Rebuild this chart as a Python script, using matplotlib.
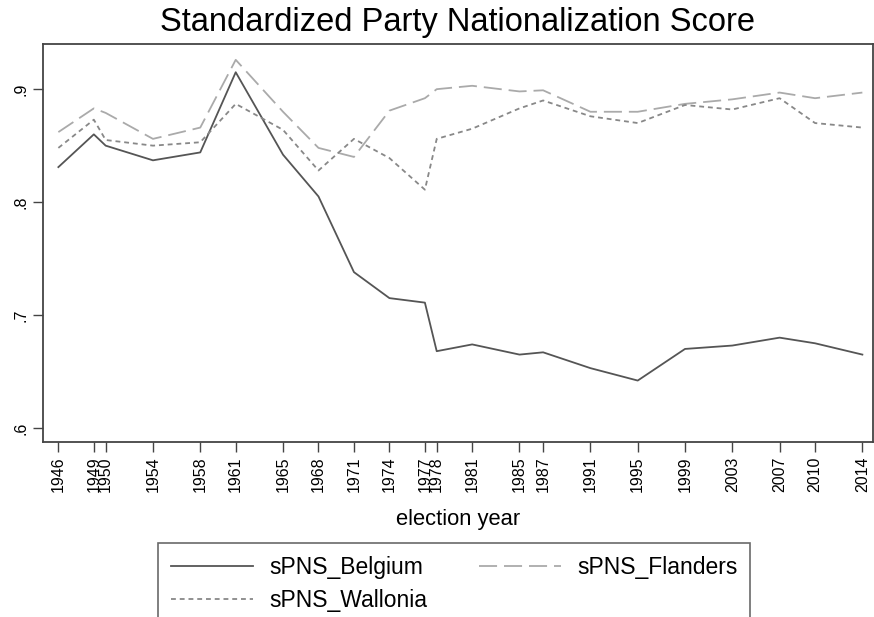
import matplotlib
matplotlib.use("Agg")
from matplotlib import pyplot as plt

plt.rcParams['font.family'] = ['Liberation Sans', 'DejaVu Sans']
plt.rcParams['lines.scale_dashes'] = False

# Election years and standardized party nationalization scores
years = [1946, 1949, 1950, 1954, 1958, 1961, 1965, 1968, 1971, 1974, 1977,
         1978, 1981, 1985, 1987, 1991, 1995, 1999, 2003, 2007, 2010, 2014]

belgium = [0.831, 0.860, 0.850, 0.837, 0.844, 0.915, 0.842, 0.805, 0.738,
           0.715, 0.711, 0.668, 0.674, 0.665, 0.667, 0.653, 0.642, 0.670,
           0.673, 0.680, 0.675, 0.665]
flanders = [0.862, 0.883, 0.879, 0.856, 0.866, 0.926, 0.880, 0.848, 0.840,
            0.881, 0.892, 0.900, 0.903, 0.898, 0.899, 0.880, 0.880, 0.887,
            0.891, 0.897, 0.892, 0.897]
wallonia = [0.848, 0.873, 0.855, 0.850, 0.853, 0.887, 0.864, 0.828, 0.856,
            0.839, 0.811, 0.856, 0.865, 0.883, 0.890, 0.876, 0.870, 0.886,
            0.882, 0.892, 0.870, 0.866]

y_ticks = [0.6, 0.7, 0.8, 0.9]
y_labels = ['.6', '.7', '.8', '.9']

fig = plt.figure(figsize=(8.74, 6.17), dpi=100)
ax = fig.add_axes([43 / 874, 1 - 442 / 617, 830 / 874, 398 / 617])

l_bel, = ax.plot(years, belgium, color='#555555', lw=1.3, label='sPNS_Belgium')
l_fla, = ax.plot(years, flanders, color='#aaaaaa', lw=1.3, label='sPNS_Flanders',
                 dashes=(13, 5))
l_wal, = ax.plot(years, wallonia, color='#888888', lw=1.3, label='sPNS_Wallonia',
                 dashes=(3.5, 2.8))

ax.set_xlim(1944.7, 2014.9)
ax.set_ylim(0.5876, 0.940)

ax.set_xticks(years)
ax.set_xticklabels([str(y) for y in years], rotation=90, fontsize=11.5)
ax.set_yticks(y_ticks)
ax.set_yticklabels(y_labels, rotation=90, fontsize=11.5, va='center')
ax.tick_params(direction='out', length=7, width=1, color='#444444')

for s in ax.spines.values():
    s.set_color('#444444')
    s.set_linewidth(1.3)

fig.text(458 / 874, 1 - 519 / 617, 'election year', fontsize=15.8,
         ha='center', va='center')
fig.text(458 / 874, 1 - 23 / 617, 'Standardized Party Nationalization Score',
         fontsize=23.5, ha='center', va='center')

# Legend: two columns, Belgium/Flanders on first row
leg = fig.legend([l_bel, l_wal, l_fla], ['sPNS_Belgium', 'sPNS_Wallonia', 'sPNS_Flanders'],
                 ncol=2, loc='upper left', bbox_to_anchor=(158 / 874, 1 - 543 / 617),
                 borderaxespad=0, fontsize=16.5, handlelength=3.6, handletextpad=0.7,
                 columnspacing=2.25, frameon=True, fancybox=False, borderpad=0.55,
                 labelspacing=0.45)
leg.get_frame().set_edgecolor('#444444')
leg.get_frame().set_linewidth(1.2)

fig.savefig('out.png', dpi=100)
